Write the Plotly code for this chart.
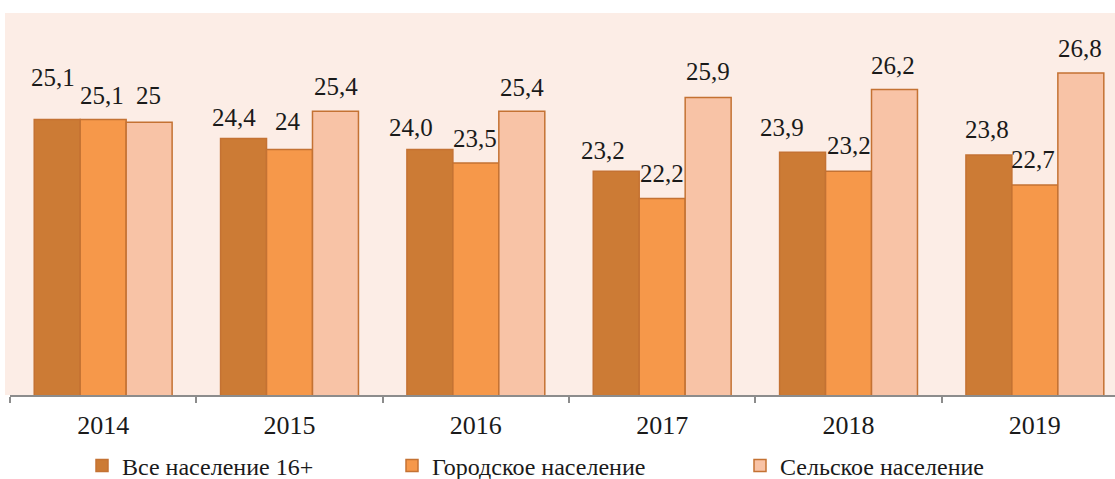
import plotly.graph_objects as go

# Data
years = ["2014", "2015", "2016", "2017", "2018", "2019"]
series_names = ["Все население 16+", "Городское население", "Сельское население"]
all_pop = [25.1, 24.4, 24.0, 23.2, 23.9, 23.8]
urban_pop = [25.1, 24.0, 23.5, 22.2, 23.2, 22.7]
rural_pop = [25.0, 25.4, 25.4, 25.9, 26.2, 26.8]
label_text = [
    ["25,1", "24,4", "24,0", "23,2", "23,9", "23,8"],
    ["25,1", "24", "23,5", "22,2", "23,2", "22,7"],
    ["25", "25,4", "25,4", "25,9", "26,2", "26,8"],
]

# Styling
fills = ["#CC7B35", "#F6984A", "#F8C3A6"]
outline = "#C47233"
bg = "#FCEDE6"
serif = "Liberation Serif"

# Per-label nudges in pixels (dx, lift above bar top to text centre)
label_dx = [
    [-4, -10, -19, -13, -21, -2],
    [-1, -2, -1, 0, 0, -2],
    [-1, 0, 0, 0, -2, -1],
]
label_lift = [
    [42, 21, 22, 21, 25, 25],
    [24, 28, 25, 25, 26, 25],
    [27, 25, 24, 26, 24, 25],
]

W, H = 1115, 479
ml, mr, mt, mb = 10, 0, 13, 84
x_range = [-0.5, 5.43]
y_range = [15, 29]
bargap = 0.26

values = [all_pop, urban_pop, rural_pop]
legend_ids = ["legend", "legend2", "legend3"]

fig = go.Figure()
for k in range(3):
    fig.add_trace(go.Bar(
        x=years, y=values[k], name=series_names[k],
        marker=dict(color=fills[k], line=dict(color=outline, width=1.5)),
        legend=legend_ids[k], showlegend=True,
    ))

# Value labels above each bar
px_per_unit = (W - ml - mr) / (x_range[1] - x_range[0])
bar_w = (1 - bargap) / 3
annotations = []
for k in range(3):
    offset_px = (k - 1) * bar_w * px_per_unit
    for i, yr in enumerate(years):
        annotations.append(dict(
            x=i, y=values[k][i], xref="x", yref="y",
            text=label_text[k][i], showarrow=False,
            xanchor="center", yanchor="middle",
            xshift=round(offset_px + label_dx[k][i], 1),
            yshift=label_lift[k][i],
            font=dict(family=serif, size=25, color="#1a1a1a"),
        ))

# Plot area background, slightly wider than the axis line on the left
shapes = [dict(type="rect", xref="paper", yref="paper",
               x0=-5 / (W - ml - mr), x1=1.0, y0=0, y1=1,
               fillcolor=bg, line=dict(width=0), layer="below")]

legend_font = dict(family=serif, size=24, color="#1a1a1a")
plot_w = W - ml - mr
plot_h = H - mt - mb
legend_px = [82, 392, 740]
leg_y = (H - mb - 466) / plot_h
legends = {}
for k, lid in enumerate(legend_ids):
    legends[lid] = dict(orientation="h", x=(legend_px[k] - ml) / plot_w,
                        y=leg_y, yanchor="middle", xanchor="left",
                        bgcolor="rgba(0,0,0,0)", font=legend_font,
                        itemwidth=30, visible=True)

fig.update_layout(
    width=W, height=H,
    margin=dict(l=ml, r=mr, t=mt, b=mb, autoexpand=False),
    paper_bgcolor="white", plot_bgcolor="rgba(0,0,0,0)",
    barmode="group", bargap=bargap, bargroupgap=0,
    showlegend=True,
    annotations=annotations, shapes=shapes,
    xaxis=dict(range=x_range, showline=True, linecolor="#8C8C8C", linewidth=1.5,
               ticks="outside", tickson="boundaries", ticklen=6, tickcolor="#8C8C8C",
               tickwidth=1.5, showgrid=False, zeroline=False,
               tickfont=dict(family=serif, size=26, color="#1a1a1a"),
               ticklabelstandoff=6, automargin=False),
    yaxis=dict(range=y_range, visible=False, showgrid=False, zeroline=False),
    **legends,
)

fig.write_html("out.html")
